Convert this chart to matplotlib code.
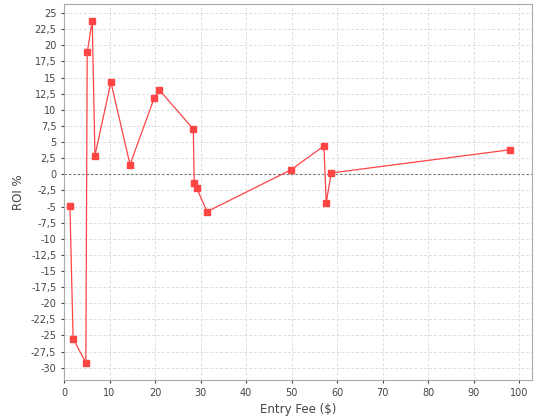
import matplotlib
matplotlib.use("Agg")
import matplotlib.pyplot as plt
from matplotlib.ticker import FuncFormatter, MultipleLocator

entry_fee = [1.3, 2.0, 4.8, 5.1, 6.2, 6.8, 10.3, 14.5, 19.8, 20.9, 28.4, 28.6, 29.2, 31.4, 49.9, 57.1, 57.6, 58.7, 98.0]
roi = [-4.9, -25.5, -29.2, 18.9, 23.8, 2.9, 14.3, 1.5, 11.8, 13.1, 7.0, -1.3, -2.2, -5.8, 0.7, 4.4, -4.4, 0.2, 3.8]

fig = plt.figure(figsize=(5.4, 4.2), dpi=100)
ax = fig.add_axes([64/540, 40/420, (532-64)/540, (380-4)/420])
ax.plot(entry_fee, roi, color="#ff4444", lw=0.9, marker="s", ms=5, zorder=3)
ax.axhline(0, color="#777777", lw=0.8, ls=(0, (2, 2)), zorder=2)
ax.set_xlim(0, 102.8)
ax.set_ylim(-31.9, 26.4)
ax.xaxis.set_major_locator(MultipleLocator(10))
ax.yaxis.set_major_locator(MultipleLocator(2.5))
ax.yaxis.set_major_formatter(FuncFormatter(lambda v, p: (f"{v:g}").replace(".", ",")))
ax.grid(True, color="#dddddd", ls=(0, (3, 2)), lw=0.7)
ax.set_axisbelow(True)
for s in ax.spines.values():
    s.set_color("#aaaaaa")
ax.tick_params(labelsize=7, colors="#444444", length=2)
ax.set_xlabel("Entry Fee ($)", fontsize=8.5, color="#444444")
ax.set_ylabel("ROI %", fontsize=8.5, color="#444444")
fig.savefig("out.png", dpi=100)
